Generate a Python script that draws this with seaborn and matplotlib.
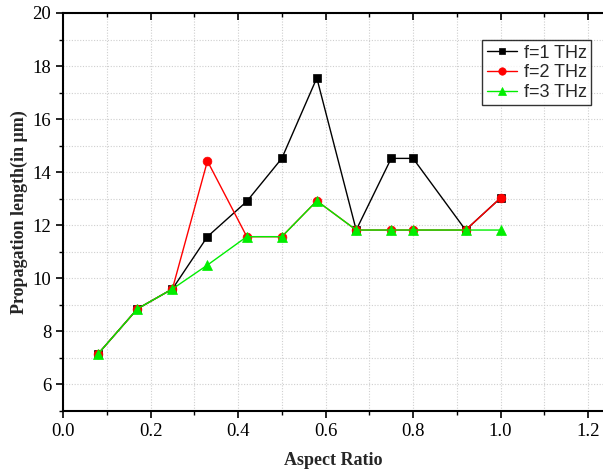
import matplotlib
matplotlib.use("Agg")
import matplotlib.pyplot as plt
from matplotlib.ticker import MultipleLocator
import seaborn as sns
import pandas as pd

aspect_ratio = [0.08, 0.17, 0.25, 0.33, 0.42, 0.50, 0.58, 0.67, 0.75, 0.80, 0.92, 1.00]
f1_thz = [7.15, 8.85, 9.60, 11.57, 12.90, 14.52, 17.55, 11.82, 14.52, 14.52, 11.82, 13.03]
f2_thz = [7.15, 8.85, 9.60, 14.42, 11.57, 11.57, 12.92, 11.82, 11.82, 11.82, 11.82, 13.03]
f3_thz = [7.15, 8.85, 9.60, 10.50, 11.57, 11.57, 12.92, 11.82, 11.82, 11.82, 11.82, 11.82]
labels = ["f=1 THz", "f=2 THz", "f=3 THz"]

sns.set_theme(style="white")
plt.rcParams["font.family"] = ["Liberation Serif", "DejaVu Serif"]

fig = plt.figure(figsize=(6.03, 4.74), dpi=100)
ax = fig.add_axes([0.1045, 0.1329, 0.8955, 0.8397])

styles = [
    (f1_thz, "black", "s", 5.5),
    (f2_thz, "#ff0000", "o", 6.3),
    (f3_thz, "#00ee00", "^", 7.0),
]
for (vals, col, mk, ms), lab in zip(styles, labels):
    df = pd.DataFrame({"x": aspect_ratio, "y": vals})
    sns.lineplot(data=df, x="x", y="y", ax=ax, color=col, marker=mk,
                 markersize=ms, markeredgewidth=0.5, markeredgecolor=col,
                 linewidth=1.0, label=lab)

ax.set_xlim(0, 1.234)
ax.set_ylim(5, 20)
ax.xaxis.set_major_locator(MultipleLocator(0.2))
ax.xaxis.set_minor_locator(MultipleLocator(0.1))
ax.yaxis.set_major_locator(MultipleLocator(2))
ax.yaxis.set_minor_locator(MultipleLocator(1))
ax.grid(True, which="both", color="#cfcfcf", linestyle=(0, (1, 1.5)), linewidth=0.8)
ax.set_axisbelow(True)

for side in ["left", "bottom", "top"]:
    ax.spines[side].set_visible(True)
    ax.spines[side].set_color("black")
    ax.spines[side].set_linewidth(1.5)
ax.spines["right"].set_visible(False)

ax.tick_params(axis="both", which="both", colors="black", labelsize=13.5)
ax.tick_params(axis="x", which="major", direction="out", length=5, width=1.2, bottom=True, top=True)
ax.tick_params(axis="x", which="minor", direction="out", length=3, width=1.0, bottom=True, top=True)
ax.tick_params(axis="y", which="major", direction="out", length=5, width=1.2, left=True)
ax.tick_params(axis="y", which="minor", direction="out", length=3, width=1.0, left=True)
for t in ax.xaxis.get_major_ticks() + ax.xaxis.get_minor_ticks():
    t.tick2line.set_marker(3)

ax.set_xticklabels([f"{v:.1f}" for v in ax.get_xticks()])
ax.set_yticklabels([f"{int(v)}" for v in ax.get_yticks()])

ax.set_xlabel("Aspect Ratio", fontsize=13, fontweight="bold", labelpad=9)
ax.set_ylabel("Propagation length(in μm)", fontsize=13, fontweight="bold", labelpad=3)

leg = ax.legend(loc="upper right", bbox_to_anchor=(0.978, 0.932), borderaxespad=0,
                frameon=True, fancybox=False, edgecolor="black",
                prop={"family": "Liberation Sans", "size": 13},
                handlelength=1.7, borderpad=0.25, labelspacing=0.15, handletextpad=0.35,
                markerscale=0.85)
leg.get_frame().set_linewidth(1.0)

fig.savefig("out.png", dpi=100)
